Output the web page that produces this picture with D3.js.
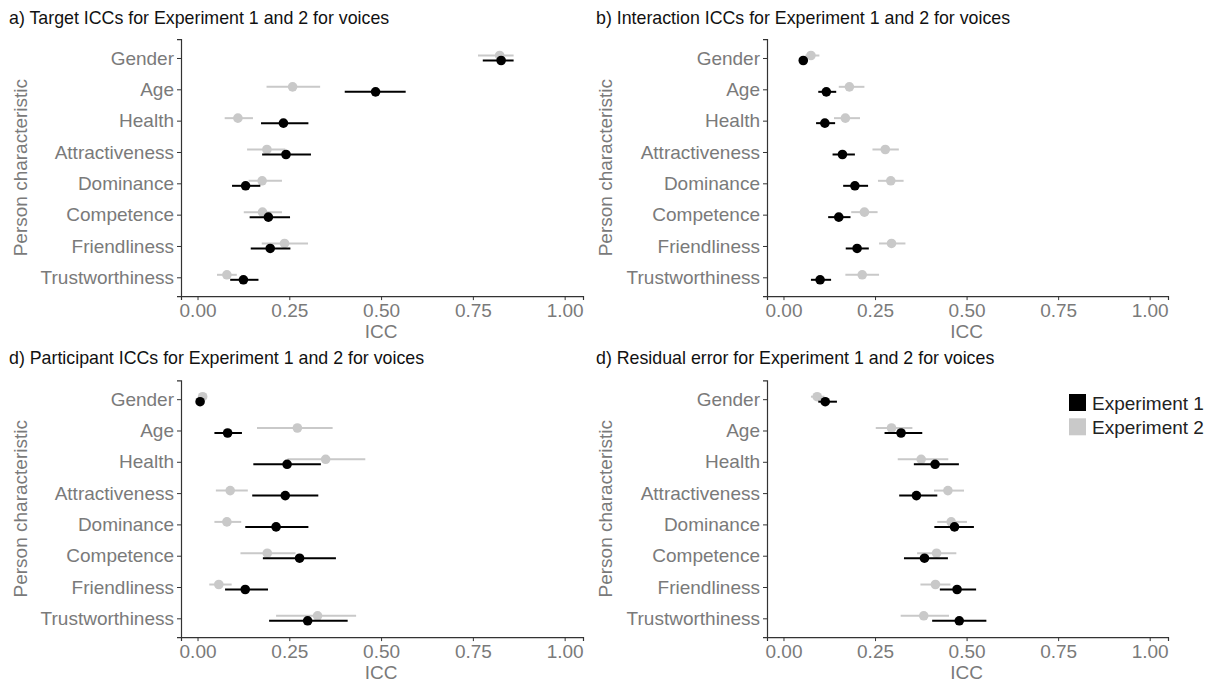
<!DOCTYPE html>
<meta charset="utf-8">
<script src="https://d3js.org/d3.v7.min.js"></script>
<style>
  body { margin: 0; background: #fff; }
  text { font-family: "Liberation Sans", Arial, Helvetica, sans-serif; }
</style>
<div id="chart"></div>
<script>
// Categories, top to bottom
var traits = ["Gender", "Age", "Health", "Attractiveness", "Dominance",
              "Competence", "Friendliness", "Trustworthiness"];
var xTicks = [0, 0.25, 0.5, 0.75, 1];

// [estimate, lower, upper] for each trait
var targetExp1 = [[0.827,0.777,0.861],[0.485,0.401,0.567],[0.234,0.173,0.302],[0.241,0.176,0.309],
                  [0.131,0.094,0.171],[0.193,0.142,0.252],[0.198,0.145,0.253],[0.125,0.089,0.166]];
var targetExp2 = [[0.823,0.764,0.861],[0.259,0.188,0.334],[0.110,0.074,0.151],[0.189,0.135,0.239],
                  [0.176,0.139,0.230],[0.177,0.126,0.230],[0.237,0.175,0.301],[0.080,0.053,0.107]];

var interExp1 = [[0.054,0.045,0.066],[0.117,0.095,0.144],[0.113,0.089,0.141],[0.161,0.134,0.195],
                 [0.195,0.163,0.231],[0.151,0.122,0.183],[0.201,0.170,0.233],[0.100,0.075,0.130]];
var interExp2 = [[0.075,0.060,0.098],[0.180,0.151,0.221],[0.169,0.138,0.209],[0.278,0.243,0.315],
                 [0.293,0.258,0.328],[0.221,0.185,0.257],[0.295,0.261,0.333],[0.215,0.169,0.261]];

var partExp1 = [[0.007,0.003,0.012],[0.082,0.046,0.121],[0.244,0.152,0.336],[0.239,0.149,0.329],
                [0.214,0.130,0.302],[0.278,0.178,0.377],[0.130,0.075,0.192],[0.300,0.195,0.409]];
var partExp2 = [[0.014,0.008,0.020],[0.272,0.162,0.368],[0.349,0.245,0.457],[0.089,0.050,0.137],
                [0.080,0.046,0.119],[0.190,0.117,0.267],[0.058,0.032,0.093],[0.327,0.214,0.432]];

var residExp1 = [[0.114,0.095,0.146],[0.321,0.276,0.379],[0.414,0.356,0.479],[0.363,0.316,0.420],
                 [0.467,0.412,0.520],[0.385,0.329,0.449],[0.474,0.427,0.526],[0.480,0.406,0.554]];
var residExp2 = [[0.092,0.075,0.112],[0.295,0.252,0.352],[0.376,0.312,0.450],[0.449,0.411,0.493],
                 [0.458,0.420,0.501],[0.418,0.365,0.472],[0.415,0.374,0.456],[0.383,0.320,0.452]];

var panels = [
  {title: "a) Target ICCs for Experiment 1 and 2 for voices", e1: targetExp1, e2: targetExp2,
   x0: 181, x1: 583, y0: 39.2, y1: 296.1, tx: 9, ty: 24, ly: 20},
  {title: "b) Interaction ICCs for Experiment 1 and 2 for voices", e1: interExp1, e2: interExp2,
   x0: 767, x1: 1168, y0: 39.2, y1: 296.1, tx: 596, ty: 24, ly: 605},
  {title: "d) Participant ICCs for Experiment 1 and 2 for voices", e1: partExp1, e2: partExp2,
   x0: 181, x1: 583, y0: 380.4, y1: 637.1, tx: 9, ty: 364, ly: 20},
  {title: "d) Residual error for Experiment 1 and 2 for voices", e1: residExp1, e2: residExp2,
   x0: 767, x1: 1168, y0: 380.4, y1: 637.1, tx: 596, ty: 364, ly: 605}
];

var width = 1220, height = 685;
var black = "#000000", grey = "#c9c9c9", axisCol = "#333333", textCol = "#7a7a7a";

var svg = d3.select("#chart").append("svg")
    .attr("width", width)
    .attr("height", height);

panels.forEach(function(p) {
  var g = svg.append("g");

  var x = d3.scaleLinear().domain([-0.045, 1.05]).range([p.x0, p.x1]);
  var y = d3.scalePoint().domain(traits).range([p.y0, p.y1]).padding(0.6);

  // title
  g.append("text")
    .attr("x", p.tx).attr("y", p.ty)
    .attr("font-size", 17.8)
    .attr("fill", "#111")
    .text(p.title);

  // axes
  var xa = g.append("g")
    .attr("transform", "translate(0," + p.y1 + ")")
    .call(d3.axisBottom(x).tickValues(xTicks).tickFormat(d3.format(".2f"))
          .tickSizeOuter(0).tickSize(4).tickPadding(3));
  var ya = g.append("g")
    .attr("transform", "translate(" + p.x0 + ",0)")
    .call(d3.axisLeft(y).tickSizeOuter(0).tickSize(4).tickPadding(3));

  [xa, ya].forEach(function(a) {
    a.select(".domain").attr("stroke", axisCol).attr("stroke-width", 1.2);
    a.selectAll(".tick line").attr("stroke", axisCol);
    a.selectAll(".tick text").attr("fill", textCol).attr("font-size", 19)
      .attr("font-family", "Liberation Sans, Arial, sans-serif");
  });

  // axis titles
  g.append("text")
    .attr("x", x(0.5)).attr("y", p.y1 + 42)
    .attr("text-anchor", "middle")
    .attr("font-size", 19).attr("fill", textCol)
    .text("ICC");
  g.append("text")
    .attr("transform", "translate(" + (p.ly + 7) + "," + ((p.y0 + p.y1) / 2) + ") rotate(-90)")
    .attr("text-anchor", "middle")
    .attr("font-size", 19).attr("fill", textCol)
    .text("Person characteristic");

  // series: Experiment 2 (grey, slightly above) then Experiment 1 (black, slightly below)
  var series = [
    {vals: p.e2, col: grey, dy: -2.5},
    {vals: p.e1, col: black, dy: 2.5}
  ];
  series.forEach(function(s) {
    var sg = g.append("g");
    sg.selectAll("line")
      .data(s.vals)
      .enter().append("line")
      .attr("x1", function(d) { return x(d[1]); })
      .attr("x2", function(d) { return x(d[2]); })
      .attr("y1", function(d, i) { return y(traits[i]) + s.dy; })
      .attr("y2", function(d, i) { return y(traits[i]) + s.dy; })
      .attr("stroke", s.col)
      .attr("stroke-width", 2);
    sg.selectAll("circle")
      .data(s.vals)
      .enter().append("circle")
      .attr("cx", function(d) { return x(d[0]); })
      .attr("cy", function(d, i) { return y(traits[i]) + s.dy; })
      .attr("r", 4.8)
      .attr("fill", s.col);
  });
});

// legend
var legend = [{label: "Experiment 1", col: black}, {label: "Experiment 2", col: grey}];
var lg = svg.append("g").attr("transform", "translate(1069,394)");
legend.forEach(function(l, i) {
  lg.append("rect")
    .attr("x", 0).attr("y", i * 24.3)
    .attr("width", 17).attr("height", 17)
    .attr("fill", l.col);
  lg.append("text")
    .attr("x", 23).attr("y", i * 24.3 + 15.5)
    .attr("font-size", 19).attr("fill", "#222")
    .text(l.label);
});
</script>
